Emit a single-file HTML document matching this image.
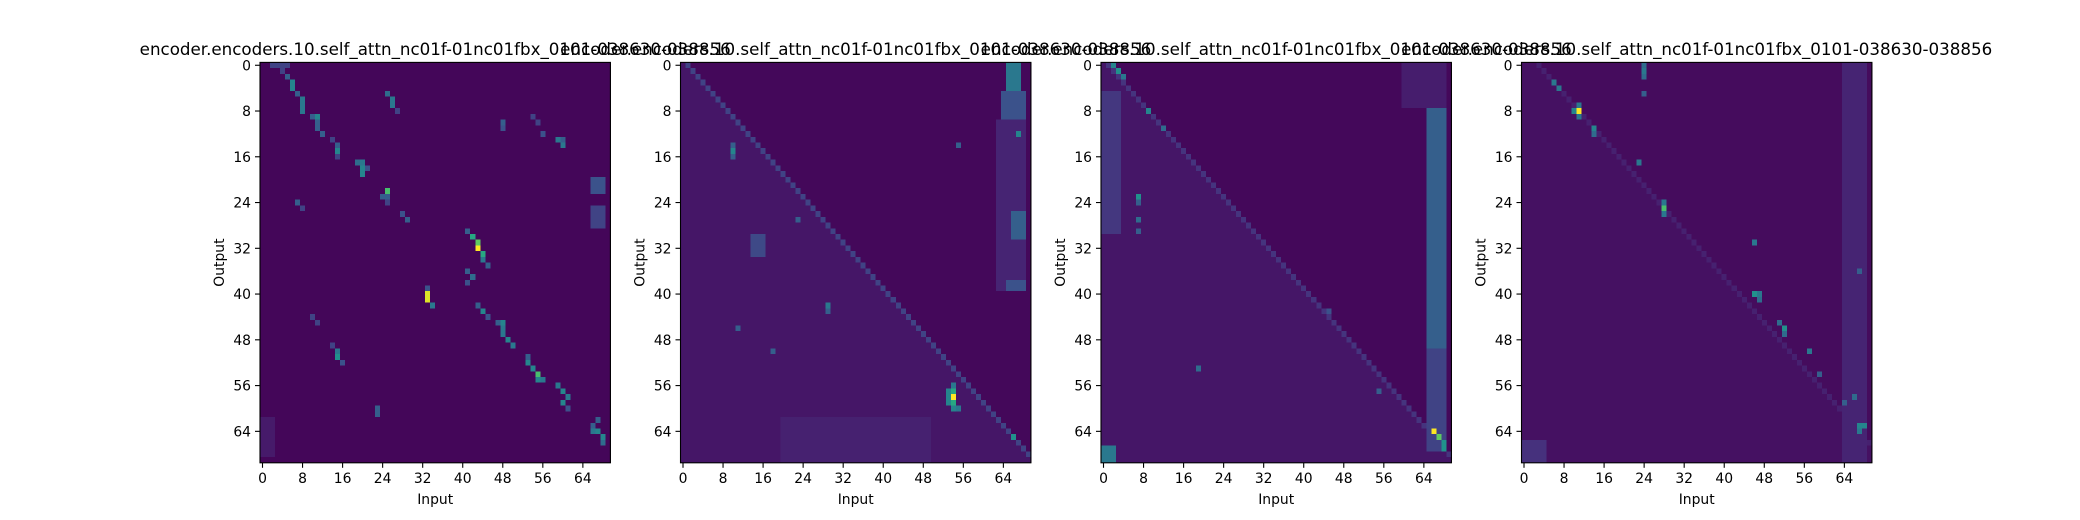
<!DOCTYPE html>
<html><head><meta charset="utf-8">
<style>
html,body{margin:0;padding:0;background:#fff;}
svg{display:block;font-family:"DejaVu Sans","Liberation Sans",sans-serif;}
</style></head>
<body>
<svg id="fig" width="2080" height="520" viewBox="0 0 2080 520" xmlns="http://www.w3.org/2000/svg">
<rect width="2080" height="520" fill="#fff"/>
</svg>
<script>
// ---- data ----
const titles = ["encoder.encoders.10.self_attn_nc01f-01nc01fbx_0101-038630-038856","encoder.encoders.10.self_attn_nc01f-01nc01fbx_0101-038630-038856","encoder.encoders.10.self_attn_nc01f-01nc01fbx_0101-038630-038856","encoder.encoders.10.self_attn_nc01f-01nc01fbx_0101-038630-038856"];
const gridSize = 70;
const tickLabels = [0,8,16,24,32,40,48,56,64];
const baseLevel = [0.015, 0.02, 0.02, 0.03];
const lowerTriLevel = [0.015, 0.06, 0.06, 0.045];
const diagLevel = [0.0, 0.2, 0.15, 0.09];
const diagOffset = [0, 1, 1, 3];
// patches: [row0,row1,col0,col1,value]
const patches1 = [[20,23,66,69,0.25],[25,29,66,69,0.2],[62,69,0,3,0.07]];
const patches2 = [[0,5,65,68,0.4],[5,10,64,69,0.25],[26,31,66,69,0.3],[38,40,65,69,0.25],[62,70,20,50,0.09],[30,34,14,17,0.22],[10,40,63,69,0.1]];
const patches3 = [[5,30,0,4,0.16],[8,50,65,69,0.3],[48,68,65,69,0.2],[67,70,0,3,0.4],[0,8,60,69,0.08]];
const patches4 = [[0,70,64,69,0.1],[66,70,0,5,0.14]];
const patchSets = [patches1, patches2, patches3, patches4];
// points: [row,col,value]
const points1 = [[0,2,0.2],[0,3,0.2],[0,4,0.2],[0,5,0.2],[1,4,0.2],[2,5,0.3],[3,6,0.45],[4,6,0.45],[5,7,0.3],[6,8,0.4],[7,8,0.4],[8,8,0.4],[9,10,0.3],[9,11,0.45],[10,11,0.3],[11,11,0.3],[12,12,0.3],
[5,25,0.35],[6,26,0.4],[7,26,0.4],[8,27,0.2],[13,14,0.2],[14,15,0.3],[15,15,0.45],[16,15,0.2],[17,19,0.35],[17,20,0.4],[18,20,0.45],[19,20,0.45],[18,21,0.25],
[22,25,0.7],[23,24,0.3],[23,25,0.3],[24,25,0.2],[26,28,0.25],[27,29,0.3],[24,7,0.3],[25,8,0.2],
[10,48,0.3],[11,48,0.25],[9,54,0.2],[10,55,0.2],[12,56,0.25],[13,59,0.4],[14,60,0.4],[13,60,0.3],
[29,41,0.3],[30,42,0.6],[31,43,0.75],[32,43,1.0],[33,44,0.6],[34,44,0.4],[35,45,0.3],[36,41,0.3],[37,42,0.35],[38,41,0.25],
[39,33,0.25],[40,33,0.95],[41,33,0.95],[42,34,0.4],
[42,43,0.3],[43,44,0.45],[44,45,0.25],[45,47,0.3],[45,48,0.45],[46,48,0.4],[47,48,0.4],[48,49,0.45],[49,50,0.4],
[49,14,0.2],[50,15,0.4],[51,15,0.5],[52,16,0.25],[44,10,0.2],[45,11,0.2],
[51,53,0.3],[52,53,0.45],[53,54,0.45],[54,55,0.7],[55,55,0.45],[55,56,0.4],[56,59,0.4],[57,60,0.45],[58,61,0.4],[59,60,0.45],[60,61,0.25],
[62,67,0.3],[63,66,0.3],[64,66,0.4],[64,67,0.45],[65,68,0.45],[66,68,0.35],[60,23,0.3],[61,23,0.3]];
const points2 = [[14,10,0.3],[15,10,0.45],[16,10,0.3],[12,67,0.45],[14,55,0.3],[27,23,0.3],[42,29,0.4],[43,29,0.3],
[57,53,0.45],[58,53,0.45],[59,53,0.45],[57,54,0.6],[58,54,1.0],[59,54,0.6],[60,54,0.45],[60,55,0.4],[56,54,0.4],[65,66,0.5],[46,11,0.3],[50,18,0.3]];
const points3 = [[0,2,0.45],[1,3,0.5],[2,4,0.4],[8,9,0.45],[11,12,0.35],[23,7,0.5],[24,7,0.3],[27,7,0.35],[29,7,0.3],
[64,66,1.0],[65,67,0.75],[66,68,0.5],[67,68,0.5],[53,19,0.35],[57,55,0.3],[43,45,0.25]];
const points4 = [[3,6,0.4],[4,7,0.4],[7,11,0.4],[8,10,0.45],[8,11,1.0],[9,11,0.4],[11,14,0.45],[12,14,0.35],
[0,24,0.35],[1,24,0.4],[2,24,0.35],[5,24,0.3],[17,23,0.4],[24,28,0.4],[25,28,0.7],[26,28,0.4],[31,46,0.4],
[40,46,0.5],[40,47,0.4],[41,47,0.35],[45,51,0.35],[46,52,0.5],[47,52,0.35],[50,57,0.4],[54,59,0.3],[58,66,0.35],[59,64,0.3],
[63,67,0.45],[63,68,0.45],[64,67,0.4],[36,67,0.3]];
const pointSets = [points1, points2, points3, points4];

// ---- rendering ----
const NS = "http://www.w3.org/2000/svg";
const svg = document.getElementById('fig');
const stops = ["#440154","#472d7b","#3b528b","#2c728e","#21918c","#28ae80","#5ec962","#addc30","#fde725"];
function hex(h){return [parseInt(h.substr(1,2),16),parseInt(h.substr(3,2),16),parseInt(h.substr(5,2),16)];}
const stopRGB = stops.map(hex);
function viridis(v){
  v=Math.max(0,Math.min(1,v));
  const p=v*(stops.length-1), i=Math.min(stops.length-2,Math.floor(p)), f=p-i;
  const a=stopRGB[i], b=stopRGB[i+1];
  return "rgb("+a.map((c,k)=>Math.round(c+(b[k]-c)*f)).join(",")+")";
}
function mk(tag, attrs, parent){const e=document.createElementNS(NS,tag);for(const k in attrs)e.setAttribute(k,attrs[k]);(parent||svg).appendChild(e);return e;}

const axW = 350.4, axH = 400.4, axY = 62.4, gap = 420.5, axX0 = 260;
for (let p=0;p<4;p++){
  const x0 = axX0 + p*gap;
  const cw = axW/gridSize, ch = axH/gridSize;
  const xScale = c => x0 + c*cw;
  const yScale = r => axY + r*ch;
  const g=[];
  for(let r=0;r<gridSize;r++){g.push([]);for(let c=0;c<gridSize;c++){
    let v = c < r+diagOffset[p] ? lowerTriLevel[p] : baseLevel[p];
    if (c===r+diagOffset[p] && diagLevel[p]>0) v = diagLevel[p];
    g[r].push(v);}}
  for(const [r0,r1,c0,c1,v] of patchSets[p]) for(let r=r0;r<r1&&r<gridSize;r++) for(let c=c0;c<c1&&c<gridSize;c++) g[r][c]=Math.max(g[r][c],v);
  for(const [r,c,v] of pointSets[p]) if(r<gridSize&&c<gridSize) g[r][c]=Math.max(g[r][c],v);

  const panel = mk('g',{});
  
  
  const cells = mk('g',{'shape-rendering':'crispEdges'},panel);
  
  
  for(let r=0;r<gridSize;r++)for(let c=0;c<gridSize;c++){
    const x=xScale(c), y=yScale(r);
    const rc = mk('rect',{x:x.toFixed(2),y:y.toFixed(2),width:(cw+0.4).toFixed(2),height:(ch+0.4).toFixed(2),fill:viridis(g[r][c])},cells);
    
    
  }
  const frame = mk('rect',{x:x0,y:axY,width:axW,height:axH,fill:'none',stroke:'#000','stroke-width':1.1},panel);
  
  
  for(const t of tickLabels){
    const tx = xScale(t+0.5), ty = yScale(t+0.5);
    const xl = mk('line',{x1:tx,x2:tx,y1:axY+axH,y2:axY+axH+5,stroke:'#000','stroke-width':1.1},panel);
    
    
    const xt = mk('text',{x:tx,y:axY+axH+20,'text-anchor':'middle','font-size':'13.9px',fill:'#000'},panel);
    xt.textContent=t;
    
    
    const yl = mk('line',{x1:x0-5,x2:x0,y1:ty,y2:ty,stroke:'#000','stroke-width':1.1},panel);
    
    
    const yt = mk('text',{x:x0-9,y:ty+5,'text-anchor':'end','font-size':'13.9px',fill:'#000'},panel);
    yt.textContent=t;
    
    
  }
  const xlab = mk('text',{x:x0+axW/2,y:504,'text-anchor':'middle','font-size':'13.9px',fill:'#000'},panel);
  xlab.textContent='Input';
  
  
  const ylab = mk('text',{x:0,y:0,'text-anchor':'middle','font-size':'13.9px',fill:'#000',transform:'translate('+(x0-36)+','+(axY+axH/2)+') rotate(-90)'},panel);
  ylab.textContent='Output';
  
  
  const tt = mk('text',{x:x0+axW/2,y:55,'text-anchor':'middle','font-size':'16.7px',fill:'#000'},panel);
  tt.textContent=titles[p];
  
  
}
</script>
</body></html>
